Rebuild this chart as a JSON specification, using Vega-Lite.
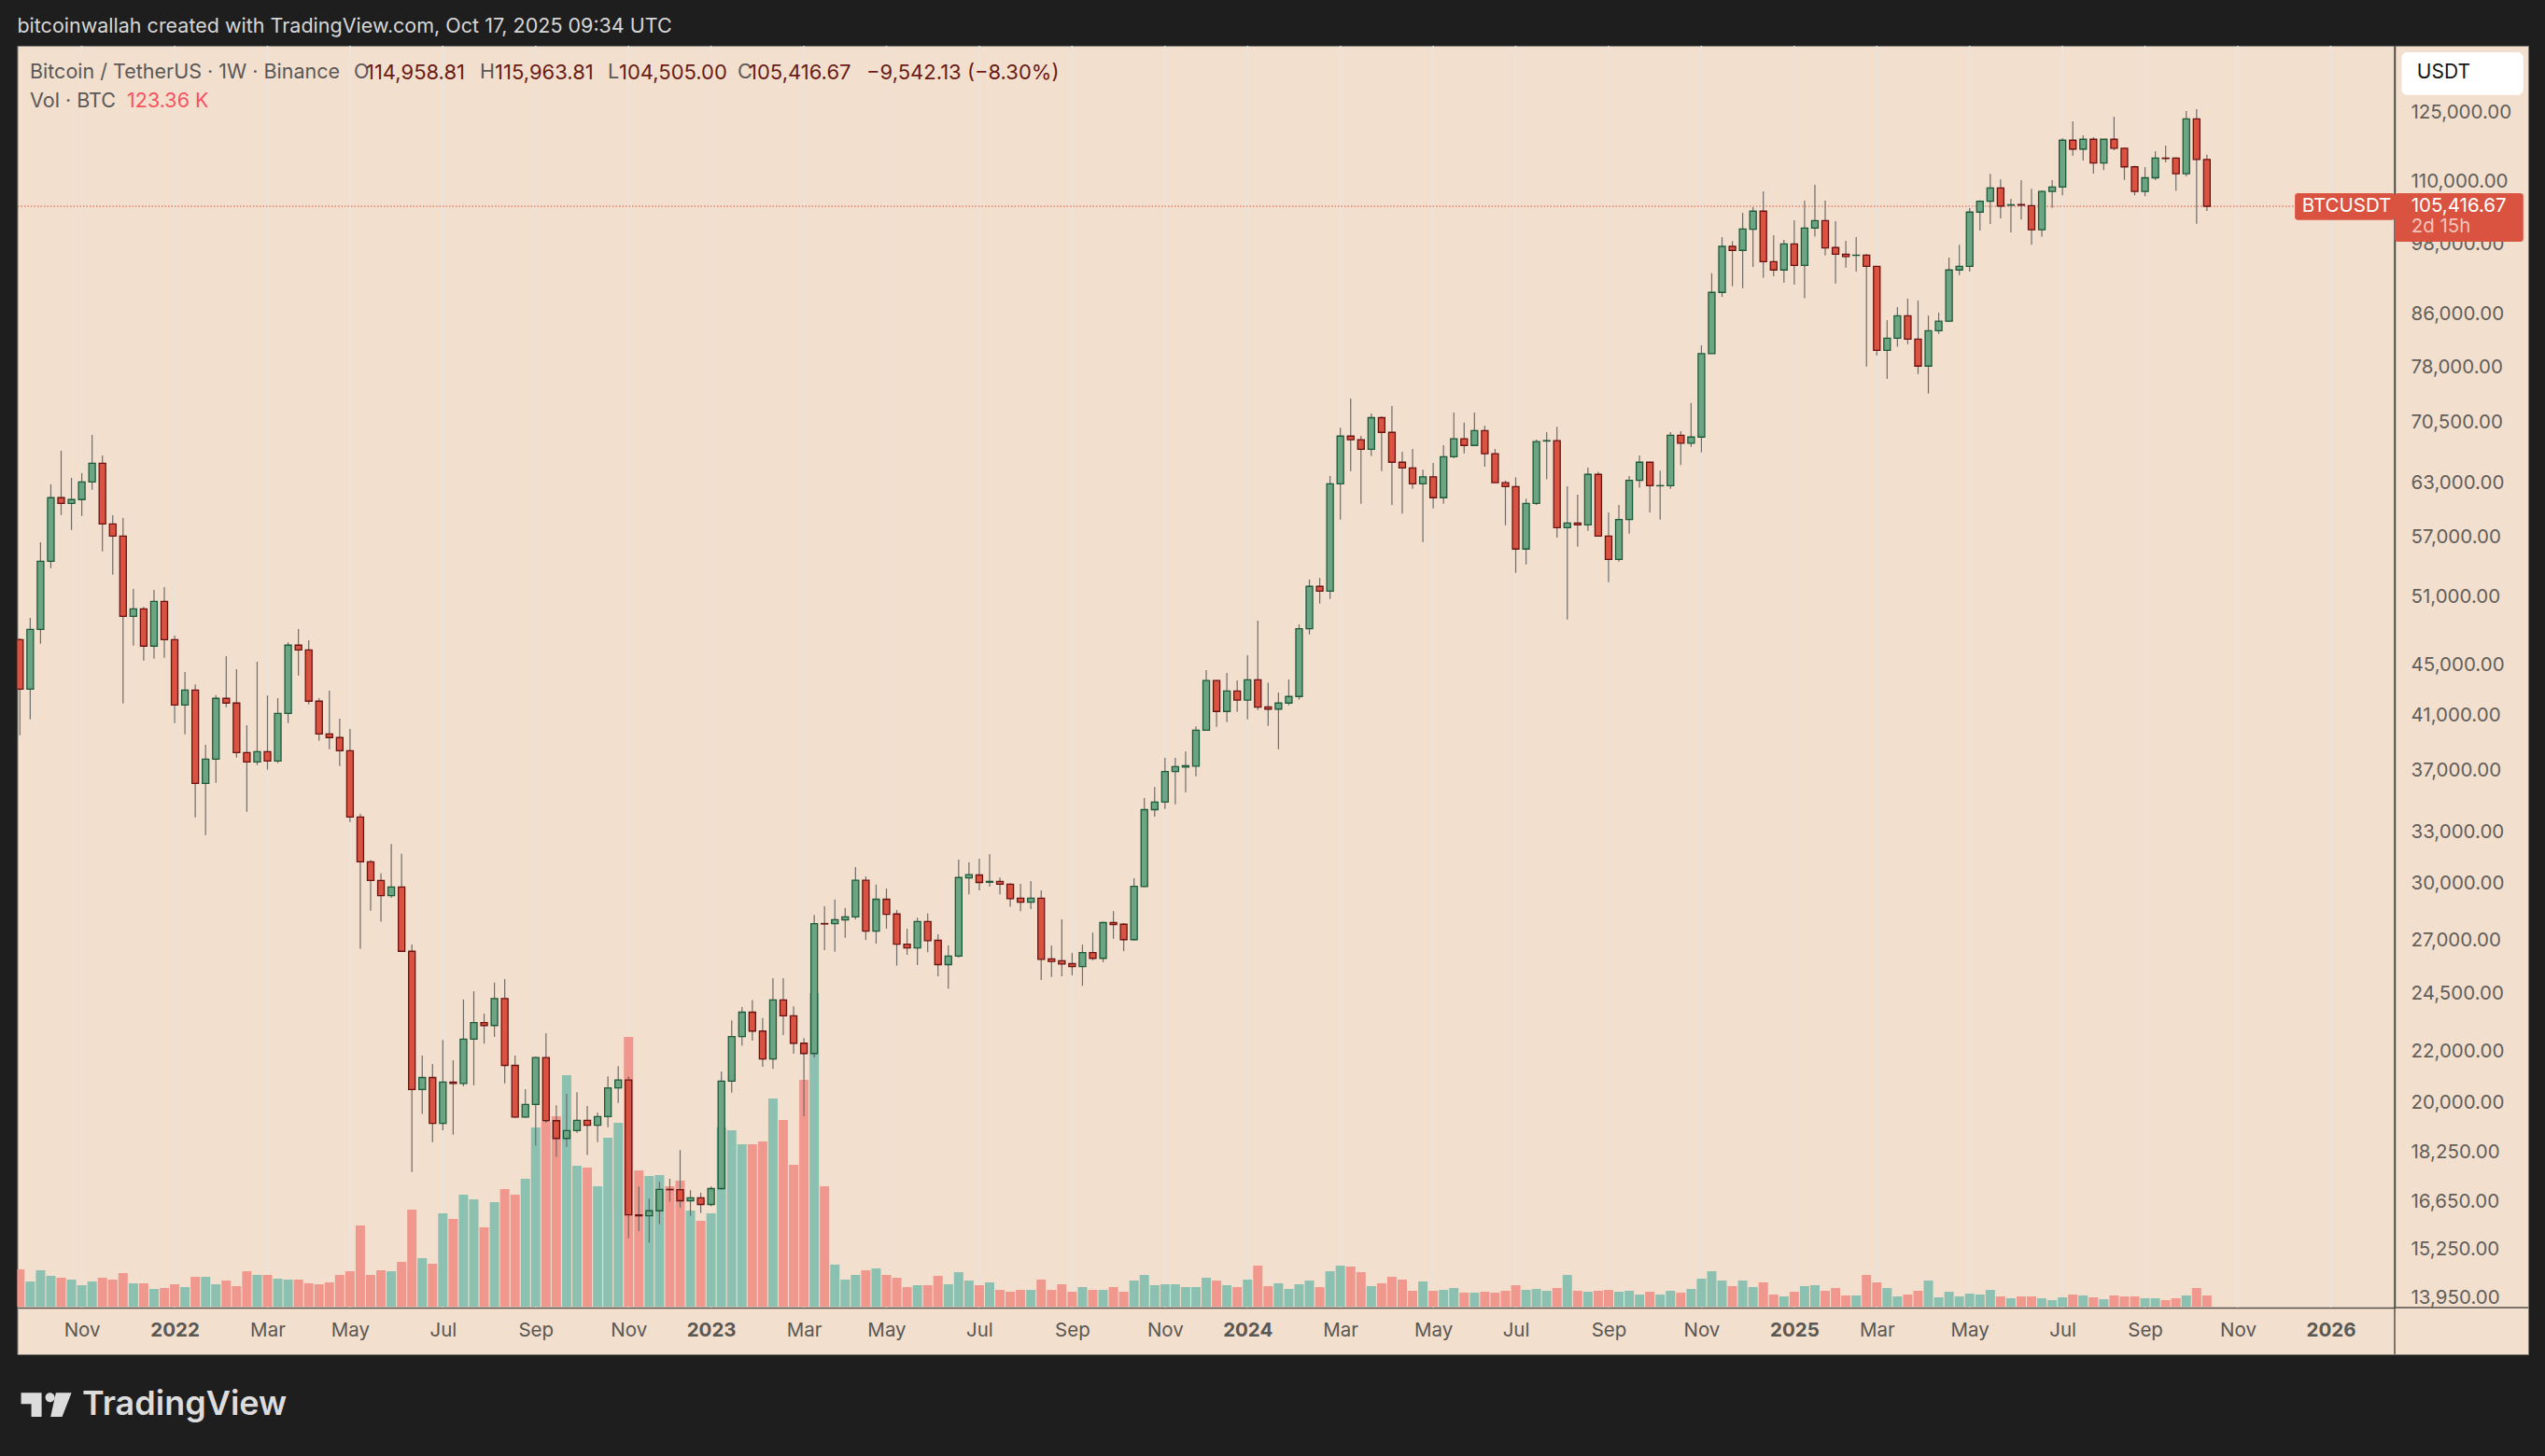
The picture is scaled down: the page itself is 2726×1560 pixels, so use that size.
{
"$schema":"https://vega.github.io/schema/vega-lite/v6.json",
"width":2689.5,"height":1402,
"autosize":{"type":"none"},
"padding":{"left":18.5,"top":49,"right":18,"bottom":109},
"background":"#1e1e1e",
"config":{"view":{"fill":"#f2dfce","stroke":"#7f7a74","strokeWidth":1},"text":{"font":"Inter"}},
"datasets":{
"ticks":[{"t":"2021-11-01"},{"t":"2022-01-03"},{"t":"2022-03-07"},{"t":"2022-05-02"},{"t":"2022-07-04"},{"t":"2022-09-05"},{"t":"2022-11-07"},{"t":"2023-01-02"},{"t":"2023-03-06"},{"t":"2023-05-01"},{"t":"2023-07-03"},{"t":"2023-09-04"},{"t":"2023-11-06"},{"t":"2024-01-01"},{"t":"2024-03-04"},{"t":"2024-05-06"},{"t":"2024-07-01"},{"t":"2024-09-02"},{"t":"2024-11-04"},{"t":"2025-01-06"},{"t":"2025-03-03"},{"t":"2025-05-05"},{"t":"2025-07-07"},{"t":"2025-09-01"},{"t":"2025-11-03"},{"t":"2026-01-05"}],
"levels":[{"p":125000},{"p":110000},{"p":98000},{"p":86000},{"p":78000},{"p":70500},{"p":63000},{"p":57000},{"p":51000},{"p":45000},{"p":41000},{"p":37000},{"p":33000},{"p":30000},{"p":27000},{"p":24500},{"p":22000},{"p":20000},{"p":18250},{"p":16650},{"p":15250},{"p":13950}],
"btc":[
{"t":"2021-09-20","o":47294,"h":47400,"l":39632,"c":43156,"v":412},
{"t":"2021-09-27","o":43156,"h":49232,"l":40813,"c":48202,"v":278},
{"t":"2021-10-04","o":48202,"h":56620,"l":46938,"c":54671,"v":402},
{"t":"2021-10-11","o":54671,"h":63018,"l":53983,"c":61488,"v":340},
{"t":"2021-10-18","o":61488,"h":67063,"l":59568,"c":60848,"v":319},
{"t":"2021-10-25","o":60848,"h":63792,"l":57942,"c":61276,"v":299},
{"t":"2021-11-01","o":61276,"h":64345,"l":59465,"c":63317,"v":237},
{"t":"2021-11-08","o":63317,"h":69066,"l":62406,"c":65541,"v":278},
{"t":"2021-11-15","o":65541,"h":66491,"l":55690,"c":58580,"v":319},
{"t":"2021-11-22","o":58580,"h":59535,"l":53332,"c":57284,"v":299},
{"t":"2021-11-29","o":57284,"h":59226,"l":42028,"c":49375,"v":371},
{"t":"2021-12-06","o":49375,"h":51943,"l":46776,"c":50066,"v":258},
{"t":"2021-12-13","o":50066,"h":50240,"l":45503,"c":46728,"v":258},
{"t":"2021-12-20","o":46728,"h":51853,"l":45660,"c":50762,"v":196},
{"t":"2021-12-27","o":50762,"h":52123,"l":45737,"c":47294,"v":206},
{"t":"2022-01-03","o":47294,"h":47643,"l":40531,"c":41911,"v":247},
{"t":"2022-01-10","o":41911,"h":44539,"l":39700,"c":43081,"v":216},
{"t":"2022-01-17","o":43081,"h":43535,"l":34044,"c":36250,"v":330},
{"t":"2022-01-24","o":36250,"h":38929,"l":32947,"c":37918,"v":330},
{"t":"2022-01-31","o":37918,"h":42685,"l":36288,"c":42422,"v":247},
{"t":"2022-02-07","o":42422,"h":45870,"l":41735,"c":42057,"v":288},
{"t":"2022-02-14","o":42057,"h":44765,"l":38023,"c":38378,"v":227},
{"t":"2022-02-21","o":38378,"h":40368,"l":34400,"c":37720,"v":391},
{"t":"2022-02-28","o":37720,"h":45400,"l":37497,"c":38444,"v":350},
{"t":"2022-03-07","o":38444,"h":42663,"l":37180,"c":37786,"v":350},
{"t":"2022-03-14","o":37786,"h":42444,"l":37630,"c":41264,"v":309},
{"t":"2022-03-21","o":41264,"h":47052,"l":40531,"c":46809,"v":299},
{"t":"2022-03-28","o":46809,"h":48226,"l":44260,"c":46404,"v":299},
{"t":"2022-04-04","o":46404,"h":47238,"l":41955,"c":42203,"v":258},
{"t":"2022-04-11","o":42203,"h":42444,"l":39222,"c":39727,"v":247},
{"t":"2022-04-18","o":39727,"h":43028,"l":38615,"c":39454,"v":268},
{"t":"2022-04-25","o":39454,"h":40861,"l":37430,"c":38510,"v":350},
{"t":"2022-05-02","o":38510,"h":40088,"l":33749,"c":34067,"v":391},
{"t":"2022-05-09","o":34067,"h":34263,"l":26700,"c":31357,"v":896},
{"t":"2022-05-16","o":31357,"h":31460,"l":28640,"c":30293,"v":350},
{"t":"2022-05-23","o":30293,"h":30689,"l":28066,"c":29456,"v":402},
{"t":"2022-05-30","o":29456,"h":32409,"l":29335,"c":29926,"v":391},
{"t":"2022-06-06","o":29926,"h":31822,"l":26560,"c":26571,"v":494},
{"t":"2022-06-13","o":26571,"h":26902,"l":17665,"c":20574,"v":1071},
{"t":"2022-06-20","o":20574,"h":21905,"l":19664,"c":21037,"v":536},
{"t":"2022-06-27","o":21037,"h":21575,"l":18668,"c":19330,"v":474},
{"t":"2022-07-04","o":19330,"h":22556,"l":19083,"c":20865,"v":1030},
{"t":"2022-07-11","o":20865,"h":21724,"l":18925,"c":20808,"v":968},
{"t":"2022-07-18","o":20808,"h":24301,"l":20700,"c":22589,"v":1236},
{"t":"2022-07-25","o":22589,"h":24679,"l":20734,"c":23290,"v":1185},
{"t":"2022-08-01","o":23290,"h":23675,"l":22400,"c":23164,"v":876},
{"t":"2022-08-08","o":23164,"h":25076,"l":22680,"c":24351,"v":1154},
{"t":"2022-08-15","o":24351,"h":25246,"l":20808,"c":21515,"v":1298},
{"t":"2022-08-22","o":21515,"h":21905,"l":19520,"c":19555,"v":1236},
{"t":"2022-08-29","o":19555,"h":20590,"l":19520,"c":20016,"v":1411},
{"t":"2022-09-05","o":20016,"h":21875,"l":18544,"c":21830,"v":1978},
{"t":"2022-09-12","o":21830,"h":22836,"l":19344,"c":19423,"v":2039},
{"t":"2022-09-19","o":19423,"h":19986,"l":18165,"c":18796,"v":2101},
{"t":"2022-09-26","o":18796,"h":20410,"l":18505,"c":19070,"v":2554},
{"t":"2022-10-03","o":19070,"h":20475,"l":18990,"c":19436,"v":1555},
{"t":"2022-10-10","o":19436,"h":19957,"l":18228,"c":19263,"v":1535},
{"t":"2022-10-17","o":19263,"h":19720,"l":18668,"c":19570,"v":1329},
{"t":"2022-10-24","o":19570,"h":21080,"l":19190,"c":20640,"v":1864},
{"t":"2022-10-31","o":20640,"h":21484,"l":20070,"c":20945,"v":2029},
{"t":"2022-11-07","o":20945,"h":21080,"l":15634,"c":16317,"v":2977},
{"t":"2022-11-14","o":16317,"h":17200,"l":15835,"c":16290,"v":1504},
{"t":"2022-11-21","o":16290,"h":16815,"l":15500,"c":16443,"v":1442},
{"t":"2022-11-28","o":16443,"h":17355,"l":16040,"c":17105,"v":1452},
{"t":"2022-12-05","o":17105,"h":17447,"l":16720,"c":17095,"v":1329},
{"t":"2022-12-12","o":17095,"h":18395,"l":16543,"c":16750,"v":1391},
{"t":"2022-12-19","o":16750,"h":17080,"l":16290,"c":16840,"v":1061},
{"t":"2022-12-26","o":16840,"h":17000,"l":16375,"c":16635,"v":948},
{"t":"2023-01-02","o":16635,"h":17200,"l":16580,"c":17130,"v":1030},
{"t":"2023-01-09","o":17130,"h":21276,"l":17100,"c":20900,"v":1978},
{"t":"2023-01-16","o":20900,"h":23387,"l":20460,"c":22695,"v":1947},
{"t":"2023-01-23","o":22695,"h":23965,"l":22322,"c":23740,"v":1792},
{"t":"2023-01-30","o":23740,"h":24283,"l":22520,"c":22925,"v":1792},
{"t":"2023-02-06","o":22925,"h":23483,"l":21455,"c":21770,"v":1823},
{"t":"2023-02-13","o":21770,"h":25280,"l":21380,"c":24283,"v":2297},
{"t":"2023-02-20","o":24283,"h":25280,"l":22760,"c":23585,"v":2060},
{"t":"2023-02-27","o":23585,"h":23997,"l":21980,"c":22415,"v":1566},
{"t":"2023-03-06","o":22415,"h":22630,"l":19580,"c":21995,"v":2503},
{"t":"2023-03-13","o":21995,"h":28426,"l":21830,"c":27970,"v":3461},
{"t":"2023-03-20","o":27970,"h":28880,"l":26630,"c":27950,"v":1329},
{"t":"2023-03-27","o":27970,"h":29240,"l":26545,"c":28175,"v":464},
{"t":"2023-04-03","o":28160,"h":28790,"l":27240,"c":28320,"v":299},
{"t":"2023-04-10","o":28320,"h":31047,"l":28190,"c":30300,"v":350},
{"t":"2023-04-17","o":30300,"h":30515,"l":27130,"c":27580,"v":402},
{"t":"2023-04-24","o":27580,"h":30060,"l":26950,"c":29255,"v":422},
{"t":"2023-05-01","o":29255,"h":29840,"l":27700,"c":28450,"v":350},
{"t":"2023-05-08","o":28470,"h":28680,"l":25875,"c":26920,"v":319},
{"t":"2023-05-15","o":26920,"h":27700,"l":26400,"c":26740,"v":216},
{"t":"2023-05-22","o":26740,"h":28280,"l":25900,"c":28070,"v":237},
{"t":"2023-05-29","o":28070,"h":28490,"l":26525,"c":27100,"v":237},
{"t":"2023-06-05","o":27115,"h":27420,"l":25370,"c":25925,"v":340},
{"t":"2023-06-12","o":25925,"h":26860,"l":24800,"c":26335,"v":247},
{"t":"2023-06-19","o":26335,"h":31480,"l":26265,"c":30455,"v":381},
{"t":"2023-06-26","o":30430,"h":31315,"l":29520,"c":30620,"v":288},
{"t":"2023-07-03","o":30600,"h":31540,"l":29740,"c":30180,"v":237},
{"t":"2023-07-10","o":30190,"h":31800,"l":29940,"c":30240,"v":268},
{"t":"2023-07-17","o":30240,"h":30455,"l":29520,"c":30080,"v":185},
{"t":"2023-07-24","o":30080,"h":30140,"l":28860,"c":29290,"v":165},
{"t":"2023-07-31","o":29310,"h":30100,"l":28620,"c":29100,"v":185},
{"t":"2023-08-07","o":29100,"h":30255,"l":28730,"c":29310,"v":185},
{"t":"2023-08-14","o":29310,"h":29740,"l":25200,"c":26180,"v":299},
{"t":"2023-08-21","o":26200,"h":26860,"l":25340,"c":26075,"v":185},
{"t":"2023-08-28","o":26110,"h":28190,"l":25370,"c":25950,"v":247},
{"t":"2023-09-04","o":25970,"h":26490,"l":25420,"c":25830,"v":165},
{"t":"2023-09-11","o":25830,"h":26900,"l":24930,"c":26505,"v":216},
{"t":"2023-09-18","o":26505,"h":27510,"l":26125,"c":26230,"v":185},
{"t":"2023-09-25","o":26230,"h":28070,"l":26040,"c":28020,"v":185},
{"t":"2023-10-02","o":28020,"h":28620,"l":27190,"c":27915,"v":216},
{"t":"2023-10-09","o":27935,"h":27990,"l":26580,"c":27150,"v":165},
{"t":"2023-10-16","o":27150,"h":30420,"l":27100,"c":29960,"v":288},
{"t":"2023-10-23","o":29950,"h":35283,"l":29920,"c":34530,"v":350},
{"t":"2023-10-30","o":34530,"h":36000,"l":34090,"c":35020,"v":237},
{"t":"2023-11-06","o":35020,"h":38000,"l":34570,"c":37060,"v":247},
{"t":"2023-11-13","o":37060,"h":38000,"l":34880,"c":37390,"v":247},
{"t":"2023-11-20","o":37360,"h":38465,"l":35670,"c":37450,"v":216},
{"t":"2023-11-27","o":37430,"h":40290,"l":36730,"c":40000,"v":216},
{"t":"2023-12-04","o":40000,"h":44690,"l":39950,"c":43840,"v":319},
{"t":"2023-12-11","o":43840,"h":43900,"l":40250,"c":41410,"v":288},
{"t":"2023-12-18","o":41410,"h":44460,"l":40600,"c":43005,"v":237},
{"t":"2023-12-25","o":43005,"h":43860,"l":41380,"c":42290,"v":216},
{"t":"2024-01-01","o":42290,"h":45950,"l":40810,"c":43910,"v":299},
{"t":"2024-01-08","o":43910,"h":48980,"l":41510,"c":41735,"v":453},
{"t":"2024-01-15","o":41765,"h":43670,"l":40320,"c":41590,"v":227},
{"t":"2024-01-22","o":41590,"h":42880,"l":38615,"c":42057,"v":258},
{"t":"2024-01-29","o":42057,"h":43930,"l":41880,"c":42570,"v":196},
{"t":"2024-02-05","o":42570,"h":48650,"l":42320,"c":48260,"v":247},
{"t":"2024-02-12","o":48260,"h":52850,"l":47750,"c":52190,"v":288},
{"t":"2024-02-19","o":52190,"h":53000,"l":50550,"c":51730,"v":216},
{"t":"2024-02-26","o":51730,"h":64000,"l":50990,"c":63100,"v":391},
{"t":"2024-03-04","o":63100,"h":70000,"l":59040,"c":68910,"v":453},
{"t":"2024-03-11","o":68910,"h":73870,"l":64600,"c":68460,"v":443},
{"t":"2024-03-18","o":68460,"h":68950,"l":60800,"c":67260,"v":381},
{"t":"2024-03-25","o":67260,"h":71860,"l":66420,"c":71300,"v":227},
{"t":"2024-04-01","o":71300,"h":71500,"l":64600,"c":69390,"v":258},
{"t":"2024-04-08","o":69390,"h":72850,"l":60670,"c":65660,"v":330},
{"t":"2024-04-15","o":65660,"h":66950,"l":59710,"c":64980,"v":299},
{"t":"2024-04-22","o":64980,"h":67290,"l":62500,"c":63100,"v":175},
{"t":"2024-04-29","o":63100,"h":64770,"l":56650,"c":63910,"v":278},
{"t":"2024-05-06","o":63910,"h":65570,"l":60280,"c":61490,"v":175},
{"t":"2024-05-13","o":61490,"h":67760,"l":60800,"c":66330,"v":185},
{"t":"2024-05-20","o":66330,"h":71980,"l":66150,"c":68570,"v":206},
{"t":"2024-05-27","o":68570,"h":70670,"l":66750,"c":67730,"v":155},
{"t":"2024-06-03","o":67730,"h":71980,"l":67650,"c":69620,"v":155},
{"t":"2024-06-10","o":69620,"h":70240,"l":65118,"c":66710,"v":165},
{"t":"2024-06-17","o":66710,"h":67290,"l":63190,"c":63220,"v":155},
{"t":"2024-06-24","o":63220,"h":63450,"l":58440,"c":62770,"v":175},
{"t":"2024-07-01","o":62770,"h":63860,"l":53520,"c":55920,"v":237},
{"t":"2024-07-08","o":55920,"h":61380,"l":54350,"c":60850,"v":185},
{"t":"2024-07-15","o":60850,"h":68460,"l":60670,"c":68220,"v":196},
{"t":"2024-07-22","o":68290,"h":69420,"l":63610,"c":68340,"v":175},
{"t":"2024-07-29","o":68340,"h":70120,"l":57120,"c":58180,"v":206},
{"t":"2024-08-05","o":58180,"h":62800,"l":49090,"c":58680,"v":350},
{"t":"2024-08-12","o":58680,"h":61830,"l":56170,"c":58480,"v":175},
{"t":"2024-08-19","o":58480,"h":65000,"l":57830,"c":64200,"v":165},
{"t":"2024-08-26","o":64200,"h":64520,"l":57250,"c":57280,"v":175},
{"t":"2024-09-02","o":57280,"h":59850,"l":52590,"c":54860,"v":185},
{"t":"2024-09-09","o":54860,"h":60670,"l":54640,"c":59050,"v":165},
{"t":"2024-09-16","o":59050,"h":64020,"l":57540,"c":63490,"v":175},
{"t":"2024-09-23","o":63490,"h":66490,"l":62630,"c":65660,"v":134},
{"t":"2024-09-30","o":65660,"h":65700,"l":59830,"c":62880,"v":165},
{"t":"2024-10-07","o":62860,"h":64660,"l":59040,"c":62880,"v":134},
{"t":"2024-10-14","o":62880,"h":69420,"l":62510,"c":69010,"v":175},
{"t":"2024-10-21","o":69010,"h":69540,"l":65310,"c":68010,"v":155},
{"t":"2024-10-28","o":68010,"h":73260,"l":67550,"c":68790,"v":196},
{"t":"2024-11-04","o":68790,"h":81500,"l":66870,"c":80280,"v":309},
{"t":"2024-11-11","o":80280,"h":93150,"l":80250,"c":89900,"v":391},
{"t":"2024-11-18","o":89900,"h":99570,"l":89140,"c":97880,"v":288},
{"t":"2024-11-25","o":97880,"h":98840,"l":90930,"c":97160,"v":227},
{"t":"2024-12-02","o":97160,"h":104170,"l":90620,"c":101090,"v":288},
{"t":"2024-12-09","o":101020,"h":105240,"l":94240,"c":104470,"v":216},
{"t":"2024-12-16","o":104470,"h":108380,"l":92340,"c":95160,"v":268},
{"t":"2024-12-23","o":95160,"h":99920,"l":92620,"c":93700,"v":134},
{"t":"2024-12-30","o":93700,"h":99050,"l":91560,"c":98330,"v":113},
{"t":"2025-01-06","o":98330,"h":102730,"l":91200,"c":94510,"v":165},
{"t":"2025-01-13","o":94510,"h":106500,"l":88950,"c":101260,"v":227},
{"t":"2025-01-20","o":101260,"h":109690,"l":99650,"c":102670,"v":237},
{"t":"2025-01-27","o":102670,"h":106500,"l":96250,"c":97600,"v":175},
{"t":"2025-02-03","o":97670,"h":102530,"l":91390,"c":96460,"v":206},
{"t":"2025-02-10","o":96460,"h":98880,"l":94100,"c":96060,"v":124},
{"t":"2025-02-17","o":96270,"h":99570,"l":93420,"c":96300,"v":124},
{"t":"2025-02-24","o":96300,"h":96520,"l":78380,"c":94320,"v":350},
{"t":"2025-03-03","o":94320,"h":94400,"l":80010,"c":80770,"v":268},
{"t":"2025-03-10","o":80770,"h":85400,"l":76590,"c":82600,"v":206},
{"t":"2025-03-17","o":82600,"h":87480,"l":81300,"c":86090,"v":113},
{"t":"2025-03-24","o":86090,"h":88850,"l":81680,"c":82460,"v":134},
{"t":"2025-03-31","o":82460,"h":88540,"l":77300,"c":78440,"v":175},
{"t":"2025-04-07","o":78440,"h":86130,"l":74550,"c":83750,"v":288},
{"t":"2025-04-14","o":83750,"h":86590,"l":83250,"c":85220,"v":103},
{"t":"2025-04-21","o":85220,"h":95880,"l":85190,"c":93700,"v":165},
{"t":"2025-04-28","o":93700,"h":98190,"l":92800,"c":94320,"v":113},
{"t":"2025-05-05","o":94320,"h":105060,"l":93420,"c":104290,"v":144},
{"t":"2025-05-12","o":104290,"h":106600,"l":100800,"c":106400,"v":134},
{"t":"2025-05-19","o":106400,"h":111960,"l":102010,"c":109070,"v":185},
{"t":"2025-05-26","o":109070,"h":110800,"l":103100,"c":105470,"v":113},
{"t":"2025-06-02","o":105650,"h":106900,"l":100450,"c":105720,"v":93},
{"t":"2025-06-09","o":105780,"h":110620,"l":102850,"c":105650,"v":113},
{"t":"2025-06-16","o":105540,"h":108880,"l":98170,"c":100940,"v":113},
{"t":"2025-06-23","o":100940,"h":108570,"l":99650,"c":108350,"v":93},
{"t":"2025-06-30","o":108350,"h":110620,"l":105120,"c":109250,"v":72},
{"t":"2025-07-07","o":109250,"h":119590,"l":107570,"c":119120,"v":103},
{"t":"2025-07-14","o":119120,"h":123340,"l":115720,"c":117180,"v":134},
{"t":"2025-07-21","o":117180,"h":120210,"l":114740,"c":119320,"v":124},
{"t":"2025-07-28","o":119320,"h":119790,"l":111980,"c":114200,"v":103},
{"t":"2025-08-04","o":114200,"h":119400,"l":112720,"c":119320,"v":82},
{"t":"2025-08-11","o":119320,"h":124450,"l":116930,"c":117370,"v":124},
{"t":"2025-08-18","o":117370,"h":117400,"l":110680,"c":113400,"v":113},
{"t":"2025-08-25","o":113400,"h":113660,"l":107570,"c":108350,"v":113},
{"t":"2025-09-01","o":108350,"h":113340,"l":107400,"c":111120,"v":93},
{"t":"2025-09-08","o":111120,"h":116710,"l":110650,"c":115230,"v":93},
{"t":"2025-09-15","o":115230,"h":117940,"l":114330,"c":115150,"v":72},
{"t":"2025-09-22","o":115230,"h":115420,"l":108460,"c":111950,"v":93},
{"t":"2025-09-29","o":111950,"h":125710,"l":111420,"c":123900,"v":124},
{"t":"2025-10-06","o":123900,"h":126150,"l":102060,"c":114958.81,"v":206},
{"t":"2025-10-13","o":114958.81,"h":115963.81,"l":104505,"c":105416.67,"v":123.36}
]
},
"encoding":{
"x":{"field":"t","type":"temporal","title":null,
"scale":{"type":"utc","padding":0,"domain":["2021-09-18T13:00:00Z","2026-02-17T10:00:00Z"],"range":[0.5,2546.5]},
"axis":{"offset":-50,"grid":false,"ticks":false,"tickSize":0,"domainColor":"#55504a","domainWidth":1.5,"labelPadding":14,"labelFont":"Inter","labelFontSize":20.5,"labelColor":"#5b5752","labelOverlap":false,"labelBound":false,"labelFlush":false,
"values":["2021-11-01","2022-01-03","2022-03-07","2022-05-02","2022-07-04","2022-09-05","2022-11-07","2023-01-02","2023-03-06","2023-05-01","2023-07-03","2023-09-04","2023-11-06","2024-01-01","2024-03-04","2024-05-06","2024-07-01","2024-09-02","2024-11-04","2025-01-06","2025-03-03","2025-05-05","2025-07-07","2025-09-01","2025-11-03","2026-01-05"],
"labelExpr":"utcmonth(datum.value)===0 ? utcFormat(datum.value,'%Y') : utcFormat(datum.value,'%b')",
"labelFontWeight":{"condition":{"test":"utcmonth(datum.value)===0","value":"bold"},"value":"normal"}}}
},
"layer":[
{"layer":[
{"data":{"name":"ticks"},"mark":{"type":"rule","color":"#e9e4de","strokeWidth":1.5},
"encoding":{"y":{"datum":13746,"type":"quantitative","scale":{"type":"log","domain":[13746,141870],"range":[1352,0]}},"y2":{"datum":141870}}},
{"data":{"name":"levels"},"mark":{"type":"rule","color":"#e9e4de","strokeWidth":1.5},
"encoding":{
"x":{"datum":"2021-09-18T13:00:00Z","type":"temporal"},"x2":{"datum":"2026-02-17T10:00:00Z"},
"y":{"field":"p","type":"quantitative","title":null,
"scale":{"type":"log","domain":[13746,141870],"range":[1352,0]},
"axis":{"orient":"right","offset":-143,"grid":false,"ticks":false,"tickSize":0,"domainColor":"#55504a","domainWidth":1.5,"labelPadding":17,"labelOffset":-2,"labelFont":"Inter","labelFontSize":20.5,"labelColor":"#625e5a","labelOverlap":false,"labelBound":false,"format":",.2f",
"values":[125000,110000,98000,86000,78000,70500,63000,57000,51000,45000,41000,37000,33000,30000,27000,24500,22000,20000,18250,16650,15250,13950]}}}}
]},
{"data":{"name":"btc"},"mark":{"type":"bar","size":10,"clip":true},
"encoding":{
"y":{"field":"v","type":"quantitative","axis":null,"scale":{"domain":[-10.3,13915],"range":[1352,0]}},
"color":{"condition":{"test":"datum.c>=datum.o","value":"#8cc1b2"},"value":"#f0988e"}}},
{"layer":[
{"data":{"values":[{"t":"2021-09-18T13:00:00Z","t1":"2025-12-11T17:00:00Z","p":105416.67}]},"mark":{"type":"rule","color":"#d95340","strokeWidth":1,"strokeDash":[1.5,2]},
"encoding":{"x2":{"field":"t1"},"y":{"field":"p","type":"quantitative","axis":null,"scale":{"type":"log","domain":[13746,141870],"range":[1352,0]}}}},
{"data":{"name":"btc"},"mark":{"type":"rule","color":"#6f6c69","strokeWidth":1.2,"clip":true},
"encoding":{"y":{"field":"l","type":"quantitative","axis":null,"scale":{"type":"log","domain":[13746,141870],"range":[1352,0]}},"y2":{"field":"h"}}},
{"data":{"name":"btc"},"mark":{"type":"bar","size":7,"strokeWidth":1.3,"clip":true},
"encoding":{"y":{"field":"o","type":"quantitative","axis":null,"scale":{"type":"log","domain":[13746,141870],"range":[1352,0]}},"y2":{"field":"c"},
"color":{"condition":{"test":"datum.c>=datum.o","value":"#6ca583"},"value":"#d95340"},
"stroke":{"condition":{"test":"datum.c>=datum.o","value":"#1d5a3a"},"value":"#6b1212"}}},
{"data":{"values":[{"t":"2026-02-17T10:00:00Z","p":12610,"p1":141870}]},"mark":{"type":"rule","color":"#55504a","strokeWidth":1.5},
"encoding":{"y":{"field":"p","type":"quantitative","axis":null,"scale":{"type":"log","domain":[13746,141870],"range":[1352,0]}},"y2":{"field":"p1"}}},
{"data":{"values":[{"t":"2026-02-17T10:00:00Z","t1":"2026-05-19T00:00:00Z","p":13746}]},"mark":{"type":"rule","color":"#55504a","strokeWidth":1.5},
"encoding":{"x2":{"field":"t1"},"y":{"field":"p","type":"quantitative","axis":null,"scale":{"type":"log","domain":[13746,141870],"range":[1352,0]}}}},
{"data":{"values":[{"t":"2026-02-22T02:00:00Z","t1":"2026-05-15T17:00:00Z","p":140160,"p1":129526}]},"mark":{"type":"rect","color":"#ffffff","cornerRadius":6},
"encoding":{"x2":{"field":"t1"},"y":{"field":"p","type":"quantitative","axis":null,"scale":{"type":"log","domain":[13746,141870],"range":[1352,0]}},"y2":{"field":"p1"}}},
{"data":{"values":[{"t":"2026-02-17T10:00:00Z","t1":"2026-05-15T17:00:00Z","p":107994,"p1":98722},{"t":"2025-12-11T17:00:00Z","t1":"2026-02-17T10:00:00Z","p":107994,"p1":102772}]},"mark":{"type":"rect","color":"#d95340","cornerRadius":3},
"encoding":{"x2":{"field":"t1"},"y":{"field":"p","type":"quantitative","axis":null,"scale":{"type":"log","domain":[13746,141870],"range":[1352,0]}},"y2":{"field":"p1"}}},
{"data":{"values":[{"label":"bitcoinwallah created with TradingView.com, Oct 17, 2025 09:34 UTC","t":"2021-09-18T04:00:00Z","p":146848}]},"mark":{"type":"text","align":"left","baseline":"middle","fontSize":21.5,"color":"#d6d6d6"},
"encoding":{"text":{"field":"label"},"y":{"field":"p","type":"quantitative","axis":null,"scale":{"type":"log","domain":[13746,141870],"range":[1352,0]}}}},
{"data":{"values":[
{"label":"Bitcoin / TetherUS · 1W · Binance","t":"2021-09-26T19:00:00Z","p":134933},
{"label":"O","t":"2022-05-04T14:00:00Z","p":134933},
{"label":"H","t":"2022-07-29T03:00:00Z","p":134933},
{"label":"L","t":"2022-10-23T22:00:00Z","p":134933},
{"label":"C","t":"2023-01-19T22:00:00Z","p":134933},
{"label":"Vol · BTC","t":"2021-09-26T19:00:00Z","p":127904}
]},"mark":{"type":"text","align":"left","baseline":"middle","fontSize":21.5,"color":"#5a5856"},
"encoding":{"text":{"field":"label"},"y":{"field":"p","type":"quantitative","axis":null,"scale":{"type":"log","domain":[13746,141870],"range":[1352,0]}}}},
{"data":{"values":[
{"label":"114,958.81","t":"2022-05-12T19:00:00Z","p":134933},
{"label":"115,963.81","t":"2022-08-08T07:00:00Z","p":134933},
{"label":"104,505.00","t":"2022-10-31T12:00:00Z","p":134933},
{"label":"105,416.67","t":"2023-01-27T14:00:00Z","p":134933},
{"label":"−9,542.13 (−8.30%)","t":"2023-04-17T10:00:00Z","p":134933}
]},"mark":{"type":"text","align":"left","baseline":"middle","fontSize":22,"color":"#6a1b14"},
"encoding":{"text":{"field":"label"},"y":{"field":"p","type":"quantitative","axis":null,"scale":{"type":"log","domain":[13746,141870],"range":[1352,0]}}}},
{"data":{"values":[{"label":"123.36 K","t":"2021-12-01T17:00:00Z","p":127904}]},"mark":{"type":"text","align":"left","baseline":"middle","fontSize":21.5,"color":"#f7525f"},
"encoding":{"text":{"field":"label"},"y":{"field":"p","type":"quantitative","axis":null,"scale":{"type":"log","domain":[13746,141870],"range":[1352,0]}}}},
{"data":{"values":[{"label":"USDT","t":"2026-03-04T12:00:00Z","p":134866}]},"mark":{"type":"text","align":"left","baseline":"middle","fontSize":21,"color":"#131313"},
"encoding":{"text":{"field":"label"},"y":{"field":"p","type":"quantitative","axis":null,"scale":{"type":"log","domain":[13746,141870],"range":[1352,0]}}}},
{"data":{"values":[{"label":"BTCUSDT","t":"2025-12-16T12:00:00Z","p":105360},{"label":"105,416.67","t":"2026-02-28T14:00:00Z","p":105360}]},"mark":{"type":"text","align":"left","baseline":"middle","fontSize":20.5,"color":"#ffffff"},
"encoding":{"text":{"field":"label"},"y":{"field":"p","type":"quantitative","axis":null,"scale":{"type":"log","domain":[13746,141870],"range":[1352,0]}}}},
{"data":{"values":[{"label":"2d 15h","t":"2026-02-28T14:00:00Z","p":101434}]},"mark":{"type":"text","align":"left","baseline":"middle","fontSize":20.5,"color":"#f5c4ba"},
"encoding":{"text":{"field":"label"},"y":{"field":"p","type":"quantitative","axis":null,"scale":{"type":"log","domain":[13746,141870],"range":[1352,0]}}}},
{"data":{"values":[{"label":"TradingView","t":"2021-11-01T05:00:00Z","p":11484}]},"mark":{"type":"text","align":"left","baseline":"middle","fontSize":36,"fontWeight":600,"color":"#dcdcdc"},
"encoding":{"text":{"field":"label"},"y":{"field":"p","type":"quantitative","axis":null,"scale":{"type":"log","domain":[13746,141870],"range":[1352,0]}}}},
{"data":{"values":[{"t":"2021-10-07T22:00:00Z","p":11484}]},"mark":{"type":"point","filled":true,"opacity":1,"color":"#dcdcdc","size":2916,"shape":"M-1,-.48 H-.185 V.48 H-.593 V-.037 H-1 Z M-.037,-.296 A.185,.185 0 1 0 .333,-.296 A.185,.185 0 1 0 -.037,-.296 Z M.38,-.48 H1 L.63,.48 H.17 Z"},
"encoding":{"y":{"field":"p","type":"quantitative","axis":null,"scale":{"type":"log","domain":[13746,141870],"range":[1352,0]}}}}
]}
],
"resolve":{"scale":{"y":"independent"}}
}
